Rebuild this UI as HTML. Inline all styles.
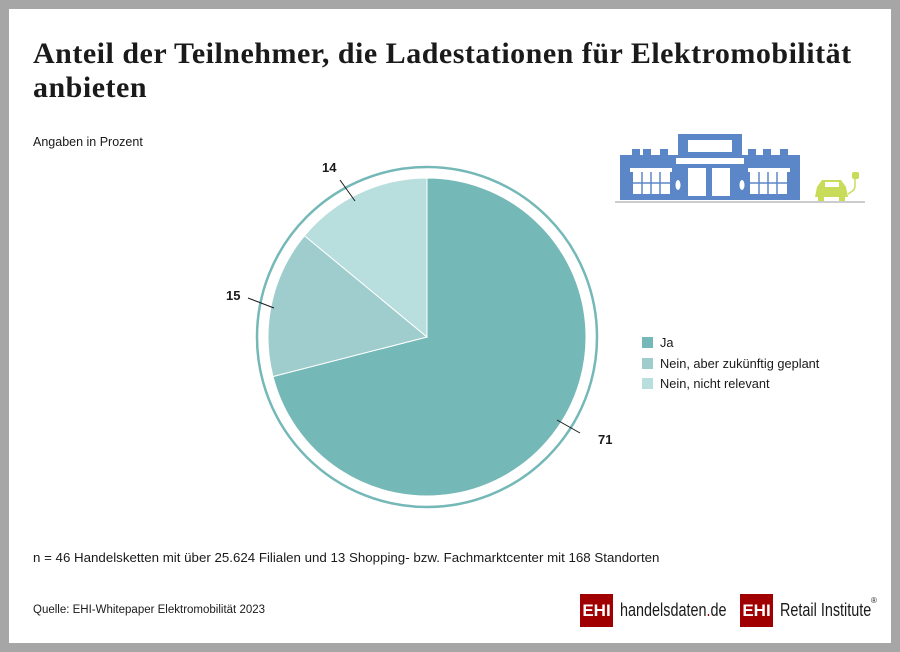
<!DOCTYPE html>
<html><head><meta charset="utf-8"><style>
body{margin:0;width:900px;height:652px;background:#a6a6a6;position:relative;font-family:"Liberation Sans",sans-serif;overflow:hidden}
#p{position:absolute;left:9px;top:9px;width:882px;height:634px;background:#fff}
.t{position:absolute;left:33px;top:37px;font:bold 30px/34px "Liberation Serif",serif;color:#1a1a1a;letter-spacing:0.5px;white-space:nowrap}
.s{position:absolute;font-size:12.5px;color:#1a1a1a;white-space:nowrap}
.lg{position:absolute;left:642px;font-size:12.8px;color:#1a1a1a}
.lg i{display:inline-block;width:11px;height:11px;margin-right:7px;vertical-align:-1px}
.box{position:absolute;top:0;left:0;width:33px;height:33px;background:#a00000;color:#fff;font-weight:bold;font-size:17px;line-height:33px;text-align:center}
.lt{position:absolute;left:40px;top:6px;font-size:18px;line-height:20px;color:#1a1a1a;transform:scaleX(0.8);transform-origin:left;white-space:nowrap}
</style></head><body>
<div id="p"></div>
<div class="t">Anteil der Teilnehmer, die Ladestationen für Elektromobilität<br>anbieten</div>
<div class="s" style="left:33px;top:135px">Angaben in Prozent</div>
<svg style="position:absolute;left:0;top:0" width="900" height="652">
<circle cx="427" cy="337" r="170" fill="none" stroke="#74b8b7" stroke-width="2.5"/>
<path d="M427,337 L427,178 A159,159 0 1 1 273,376.5 Z" fill="#74b8b7" stroke="#fff" stroke-width="1"/>
<path d="M427,337 L273,376.5 A159,159 0 0 1 304.5,235.7 Z" fill="#9fcdcd" stroke="#fff" stroke-width="1"/>
<path d="M427,337 L304.5,235.7 A159,159 0 0 1 427,178 Z" fill="#b8dede" stroke="#fff" stroke-width="1"/>
<g stroke="#1a1a1a" stroke-width="1"><line x1="557" y1="420" x2="580" y2="433"/><line x1="248" y1="298" x2="274" y2="308"/><line x1="340" y1="180" x2="355" y2="201"/></g>
<g font-family="Liberation Sans" font-weight="bold" font-size="13" fill="#1a1a1a"><text x="598" y="444">71</text><text x="226" y="300">15</text><text x="322" y="172">14</text></g>
<g fill="#5b87c8">
<rect x="678" y="134" width="64" height="22"/>
<rect x="620" y="155" width="180" height="45"/>
<rect x="632" y="149" width="8" height="8"/><rect x="643" y="149" width="8" height="8"/><rect x="660" y="149" width="8" height="8"/>
<rect x="748" y="149" width="8" height="8"/><rect x="763" y="149" width="8" height="8"/><rect x="780" y="149" width="8" height="8"/>
</g>
<g fill="#fff"><rect x="688" y="140" width="44" height="12"/><rect x="676" y="158" width="68" height="6"/>
<rect x="630" y="168" width="42" height="4"/><rect x="748" y="168" width="42" height="4"/>
<rect x="633" y="172" width="37" height="22"/><rect x="750" y="172" width="37" height="22"/>
<rect x="688" y="168" width="18" height="28"/><rect x="712" y="168" width="18" height="28"/>
<ellipse cx="678" cy="185" rx="2.5" ry="5"/><ellipse cx="742" cy="185" rx="2.5" ry="5"/></g>
<g stroke="#5b87c8" stroke-width="1.5"><line x1="642" y1="172" x2="642" y2="194"/><line x1="651" y1="172" x2="651" y2="194"/><line x1="660" y1="172" x2="660" y2="194"/><line x1="633" y1="183" x2="670" y2="183"/>
<line x1="759" y1="172" x2="759" y2="194"/><line x1="768" y1="172" x2="768" y2="194"/><line x1="777" y1="172" x2="777" y2="194"/><line x1="750" y1="183" x2="787" y2="183"/></g>
<rect x="615" y="201" width="250" height="2" fill="#ccc"/>
<g fill="#c8dc5a"><path d="M817,187 L822,180 L841,180 L846,187 L848,197 L815,197 Z"/><rect x="818" y="196" width="6" height="5"/><rect x="839" y="196" width="6" height="5"/><rect x="852" y="172" width="7" height="7" rx="2"/></g>
<rect x="825" y="182" width="14" height="5" fill="#fff"/>
<path d="M855,179 L855,186 Q855,190 851,192 L848,194" stroke="#c8dc5a" stroke-width="1.5" fill="none"/>
</svg>
<div class="lg" style="top:335px"><i style="background:#74b8b7"></i>Ja</div>
<div class="lg" style="top:356px"><i style="background:#9fcdcd"></i>Nein, aber zukünftig geplant</div>
<div class="lg" style="top:376px"><i style="background:#b8dede"></i>Nein, nicht relevant</div>
<div class="s" style="left:33px;top:550px;font-size:13.3px">n = 46 Handelsketten mit über 25.624 Filialen und 13 Shopping- bzw. Fachmarktcenter mit 168 Standorten</div>
<div class="s" style="left:33px;top:604px;font-size:11.5px">Quelle: EHI-Whitepaper Elektromobilität 2023</div>
<div style="position:absolute;left:580px;top:594px;width:150px;height:33px"><div class="box">EHI</div><div class="lt">handelsdaten<span style="color:#a00000">.</span>de</div></div>
<div style="position:absolute;left:740px;top:594px;width:150px;height:33px"><div class="box">EHI</div><div class="lt">Retail Institute</div><div style="position:absolute;left:131px;top:2px;font-size:8px;color:#1a1a1a">®</div></div>
</body></html>
